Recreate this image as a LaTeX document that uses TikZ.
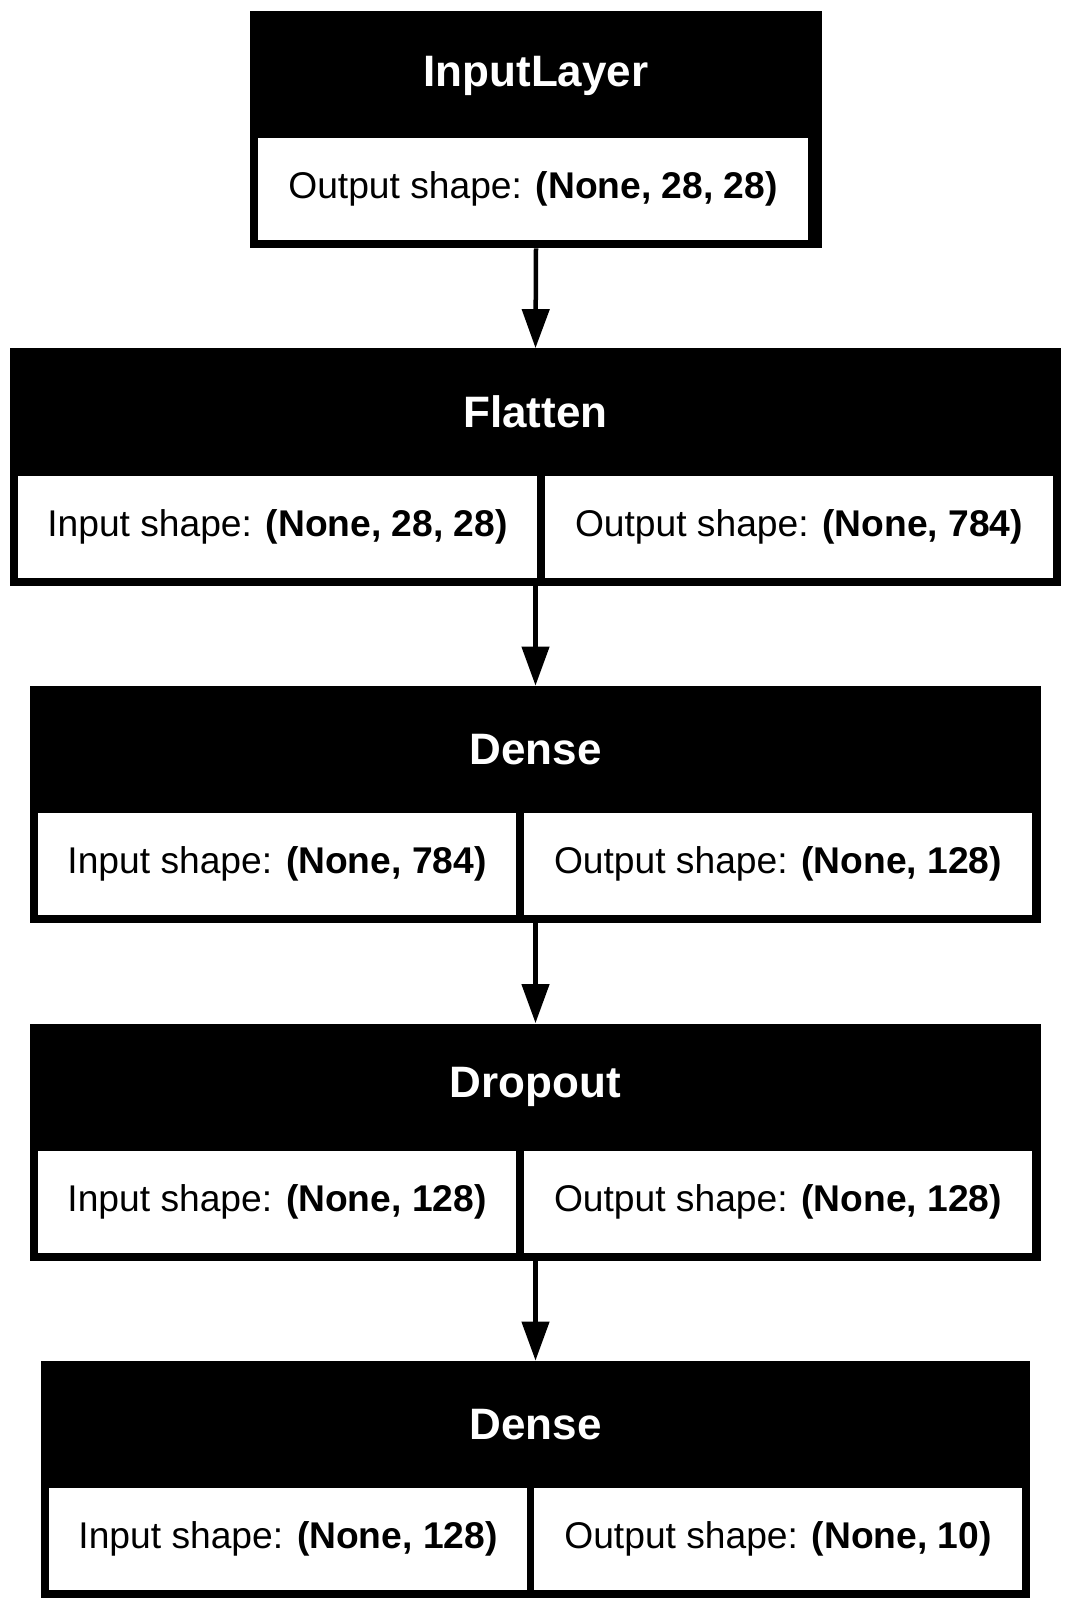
\documentclass[tikz,border=0pt]{standalone}
\usepackage{fontspec}
\setmainfont{Liberation Sans}
\usepackage{tikz}
\usetikzlibrary{arrows.meta}

\begin{document}
\begin{tikzpicture}[x=0.5pt,y=-0.5pt]
		\tikzstyle{layer}=[rectangle,fill=black,inner sep=0pt,minimum height=118.5pt]
		\tikzstyle{title}=[text=white,font=\fontsize{22}{26}\selectfont\bfseries,inner sep=0pt]
		\tikzstyle{cell}=[rectangle,fill=white,inner sep=0pt,minimum height=51pt,font=\fontsize{18.6}{22}\selectfont]
		\tikzstyle{edge}=[-{Triangle[length=19.5pt,width=13.5pt]},line width=2.25pt]
		\useasboundingbox (0,0) rectangle (1072,1610);
		
		\node[layer,minimum width=286pt] (in) at (536,129.5) {};
		\node[title] (in-t) at (536,75.5) {InputLayer};
		\node[cell,minimum width=275pt] (in-o) at (533,189) {Output shape: \textbf{(None, 28, 28)}};
		
		\node[layer,minimum width=525.5pt] (flat) at (535.5,467) {};
		\node[title] (flat-t) at (535.5,412) {Flatten};
		\node[cell,minimum width=259.5pt] (flat-i) at (277.5,526.5) {Input shape: \textbf{(None, 28, 28)}};
		\node[cell,minimum width=254pt] (flat-o) at (799,526.5) {Output shape: \textbf{(None, 784)}};
		
		\node[layer,minimum width=505.5pt] (dense1) at (535.5,804.5) {};
		\node[title] (dense1-t) at (535.5,749.5) {Dense};
		\node[cell,minimum width=239pt] (dense1-i) at (277,864) {Input shape: \textbf{(None, 784)}};
		\node[cell,minimum width=254pt] (dense1-o) at (778,864) {Output shape: \textbf{(None, 128)}};
		
		\node[layer,minimum width=505.5pt] (drop) at (535.5,1142) {};
		\node[title] (drop-t) at (535.5,1087) {Dropout};
		\node[cell,minimum width=239pt] (drop-i) at (277,1201.5) {Input shape: \textbf{(None, 128)}};
		\node[cell,minimum width=254pt] (drop-o) at (778,1201.5) {Output shape: \textbf{(None, 128)}};
		
		\node[layer,minimum width=494.5pt] (dense2) at (535.5,1479.5) {};
		\node[title] (dense2-t) at (535.5,1424.5) {Dense};
		\node[cell,minimum width=239pt] (dense2-i) at (288,1539) {Input shape: \textbf{(None, 128)}};
		\node[cell,minimum width=244pt] (dense2-o) at (778,1539) {Output shape: \textbf{(None, 10)}};
		
		\draw[edge] (in.south) -- (flat.north);
		\draw[edge] (flat.south) -- (dense1.north);
		\draw[edge] (dense1.south) -- (drop.north);
		\draw[edge] (drop.south) -- (dense2.north);
		
	\end{tikzpicture}
\end{document}
